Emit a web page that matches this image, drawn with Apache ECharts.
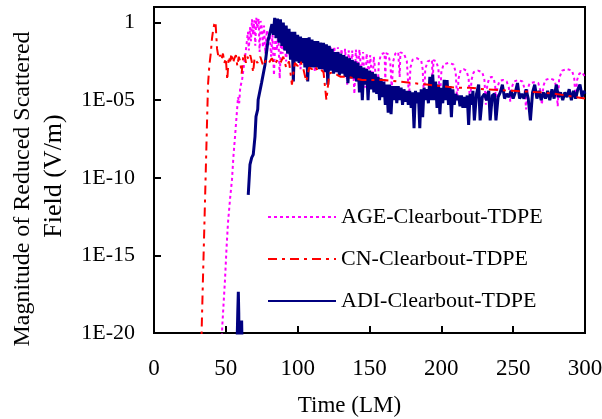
<!DOCTYPE html>
<html><head><meta charset="utf-8">
<script src="https://cdn.jsdelivr.net/npm/echarts@6/dist/echarts.min.js"></script>
<style>html,body{margin:0;padding:0;background:#fff}#c{width:602px;height:419px}</style>
</head><body><div id="c"></div>
<script>
const seriesNames = ['AGE-Clearbout-TDPE', 'CN-Clearbout-TDPE', 'ADI-Clearbout-TDPE'];
const xTickValues = [0, 50, 100, 150, 200, 250, 300];
const yTickExponents = [-20, -15, -10, -5, 0];
const yTickLabels = ['1E-20', '1E-15', '1E-10', '1E-05', '1'];

// [time (LM), log10 of |reduced scattered field| (V/m)]
const ageData = [[47,-21],[47.5,-19.6],[48.5,-18],[49.4,-16.6],[50.5,-14.5],[51.5,-12.9],[53,-11.3],[54.3,-10.1],[55.3,-8.6],[56.4,-7.35],[57.5,-6],[58.5,-4.8],[59.3,-5.2],[60,-4.2],[61.3,-3.7],[62.3,-3.0],[63.3,-2.3],[64.3,-1.5],[65.4,-0.6],[66,-1.8],[66.8,-0.3],[67.5,-1.2],[68.2,0.2],[69,-0.8],[69.8,0.15],[70.5,-1.5],[71.2,0.3],[72,-0.4],[72.8,0.25],[73.5,-1.9],[74.2,0.1],[75,-0.3],[75.8,-1.6],[76.6,-0.2],[77.5,-2.0],[78.5,-0.5],[79.5,-1.2],[80.5,-0.6],[81.5,-2.2],[82.5,-0.8],[83.5,-3.4],[84.5,-0.9],[85.5,-1.8],[86.5,-0.7],[87.5,-3.6],[88.5,-1.0],[89.5,-2.0],[90.5,-0.9],[92,-2.5],[93,-1.1],[94.5,-2.2],[95.5,-1.0],[97,-2.8],[98,-1.2],[99.5,-2.3],[100.5,-1.2],[102,-3.0],[103,-1.3],[104.5,-2.4],[105.5,-1.2],[107,-2.9],[108,-1.4],[109.5,-2.5],[110.5,-1.3],[112,-3.2],[113,-1.5],[114.5,-2.6],[115.5,-1.4],[117,-3.0],[118,-1.5],[119.5,-2.7],[120.5,-1.5],[122,-3.1],[123,-1.6],[124.5,-2.8],[125.5,-1.55],[127,-3.2],[128,-1.6],[129.5,-2.9],[130.5,-1.7],[132,-3.0],[133,-1.7],[134.5,-4.0],[135.5,-1.8],[137,-3.2],[138,-1.8],[139.5,-4.6],[140.5,-1.75],[142,-3.0],[143,-1.75],[144.5,-3.5],[145.5,-1.9],[147,-4.2],[148,-2.0],[149.5,-3.3],[150.5,-2.1],[152,-4.0],[153,-2.2],[154.5,-3.6],[155.5,-4.6],[156.5,-2.6],[158,-2.05],[160.5,-1.95],[161,-3.8],[161.5,-1.97],[163,-2.05],[164.5,-2.6],[165.5,-4.3],[166.5,-2.5],[168,-2.0],[170,-1.9],[171,-3.5],[171.5,-1.92],[174,-2.0],[176,-2.5],[177.5,-4.8],[178.5,-2.9],[180,-2.4],[183,-2.3],[186,-2.45],[187,-3.0],[188,-5.0],[188.8,-3.0],[190.5,-2.5],[193.5,-2.4],[194,-4.2],[194.5,-2.42],[196.5,-2.5],[198,-3.0],[199,-5.1],[200,-3.2],[201.5,-2.7],[205,-2.6],[208.5,-2.7],[210,-3.2],[211,-5.0],[212,-3.6],[213.5,-3.05],[215.5,-3.0],[217.5,-3.1],[219,-3.6],[220,-5.2],[221,-3.7],[222.5,-3.2],[225.5,-3.1],[228.5,-3.2],[230,-3.7],[231,-5.3],[232,-4.0],[233.5,-3.55],[235,-3.5],[236.5,-3.6],[237.5,-4.1],[238,-5.6],[239,-4.2],[240.5,-3.75],[243,-3.7],[245.5,-3.8],[247,-4.2],[248,-5.1],[249,-4.2],[250.5,-3.8],[253.5,-3.7],[256.5,-3.8],[258,-4.3],[259,-5.6],[260,-4.3],[261.5,-3.9],[264.5,-3.85],[267.5,-3.9],[269,-4.4],[270,-5.3],[271,-4.1],[272.5,-3.7],[275.5,-3.6],[278.5,-3.7],[280,-4.1],[281,-5.4],[282,-3.6],[284,-3.1],[287.5,-3.0],[291,-3.1],[292.5,-3.6],[293.5,-5.0],[294.5,-3.7],[296,-3.3],[298,-3.2],[300,-3.5]];

const cnData = [[33,-21],[33.2,-19.7],[34,-16.8],[35,-13.3],[36,-9.7],[37,-6.1],[37.6,-4.0],[38.5,-2.8],[39.5,-2.0],[40.4,-1.0],[41.3,-0.4],[42,-0.1],[42.8,0.05],[43.3,0.0],[43.9,-1.7],[45,-2.3],[46,-2.1],[47,-2.4],[48,-2.0],[49,-2.6],[50,-2.3],[51,-3.7],[52,-2.2],[53,-2.5],[54,-2.0],[55,-2.6],[56,-2.3],[57,-2.1],[58,-2.8],[59,-2.2],[60,-2.5],[61,-3.3],[62,-2.3],[63,-2.0],[64,-2.6],[65,-2.2],[66,-2.4],[67,-2.1],[68,-2.5],[69,-3.2],[70,-2.3],[72,-2.6],[74,-2.2],[76,-2.8],[78,-2.4],[80,-2.6],[82,-2.3],[84,-2.7],[86,-2.4],[88,-2.6],[90,-2.2],[92,-2.9],[94,-2.5],[96,-4.0],[98,-2.6],[100,-2.8],[102,-2.5],[104,-3.0],[106,-3.8],[108,-2.9],[110,-3.0],[112,-2.8],[114,-3.1],[116,-3.0],[118,-3.2],[120,-5.0],[122,-3.3],[124,-3.2],[126,-3.3],[128,-3.4],[130,-3.5],[135,-3.5],[140,-3.6],[145,-3.7],[150,-3.7],[160,-3.7],[170,-3.8],[180,-3.9],[190,-4.0],[200,-4.1],[210,-4.2],[220,-4.2],[230,-4.3],[240,-4.35],[250,-4.4],[260,-4.45],[270,-4.5],[280,-4.6],[290,-4.75],[300,-4.9]];

const adiData = [[57.5,-22],[58.3,-18.7],[58.7,-17.35],[59.0,-18.7],[59.3,-22],[60.5,-22],[61.0,-19.2],[61.5,-22],[62.5,-22],[63,null],[65.6,-11.1],[66.8,-9.16],[68,-8.7],[69.1,-8.5],[70.3,-7.35],[71,-6.06],[72.2,-5.6],[72.5,-4.97],[74.9,-3.87],[77.3,-2.7],[79.3,-1.2],[82.1,-0.1],[83,-0.8],
[84,0.3],[85,-1.0],[86,0.25],[87,-1.3],[88,0.2],[89,-1.5],[90,0.0],[91,-1.8],[92,-0.2],[93,-2.0],[94,-0.4],[95,-2.4],[96,-0.6],[97,-3.8],[98,-0.6],[99,-2.5],[100,-0.8],[101,-2.6],[102,-0.9],[103,-2.6],[104,-1.0],[105,-2.9],[106,-1.0],[107,-3.8],[108,-0.95],[109,-2.9],[110,-1.1],[111,-2.9],[112,-1.2],[113,-2.9],[114,-1.2],[115,-3.0],[116,-1.3],[117,-3.0],[118,-1.3],[119,-3.2],[120,-1.4],[121,-4.0],[122,-1.5],[123,-3.1],[124,-1.7],[125,-3.3],[126,-1.9],[127,-3.2],[128,-1.9],[129,-3.4],[130,-2.0],[131,-3.3],[132,-2.1],[133,-3.5],[134,-2.2],[135,-3.9],[136,-2.3],[137,-3.6],[138,-2.4],[139,-3.6],[140,-2.5],[141,-3.8],[142,-2.6],[143,-4.5],[144,-2.8],[145,-5.0],[146,-2.9],[147,-4.0],[148,-3.0],[149,-5.0],[150,-3.1],[151,-4.3],[152,-3.2],[153,-4.5],[154,-3.3],[155,-4.6],[156,-3.5],[157,-5.0],[158,-3.6],[159,-4.8],[160,-3.8],[161,-5.3],[162,-4.0],[163,-5.8],[164,-4.0],[165,-5.9],[166,-4.1],[167,-5.0],[168,-4.1],[169,-5.2],[170,-4.1],[171,-5.0],[172,-4.2],[173,-5.3],[174,-4.3],[175,-5.1],[176,-4.4],[177,-5.3],[178,-4.4],[179,-5.5],[180,-4.5],[181,-6.8],[182,-4.4],[183,-5.2],[184,-4.5],[185,-6.8],[186,-4.3],[187,-6.1],[188,-4.2],[189,-5.0],[190,-4.3],[191,-5.2],[192,-3.5],[193,-5.0],[194,-3.35],[195,-5.0],[196,-3.8],[197,-5.5],[198,-4.0],[199,-5.9],[200,-4.2],[201,-5.2],[202,-3.7],[203,-5.0],[204,-3.7],[205,-5.3],[206,-4.1],[207,-6.1],[208,-4.3],[209,-5.3],[210,-4.6],[211,-5.0],[212,-4.7],[213,-5.4],[214,-4.7],[215,-5.5],[216,-4.8],[217,-5.5],[218,-4.7],[219,-6.6],[220,-4.6],[221,-5.3],
[222,-4.4],[223,-6.3],[224.5,-4.6],[226,-4.0],[227,-6.3],[228.5,-4.8],[230,-4.6],[231.5,-5.0],[233,-4.4],[234,-6.3],[235.5,-4.7],[237,-4.6],[238,-6.3],[239.5,-4.8],[241,-4.5],[242.5,-4.0],[244,-4.9],[245.5,-4.6],[247,-4.8],[248.5,-4.4],[250,-4.9],[251.5,-4.5],[253,-3.9],[254.5,-4.9],[256,-4.6],[257.5,-4.9],[259,-4.3],[260.5,-4.9],[262,-6.3],[263.5,-4.5],[265,-4.0],[266.5,-4.9],[268,-4.4],[269.5,-5.0],[271,-4.5],[272.5,-4.9],[274,-4.4],[275.5,-5.0],[277,-4.3],[278.5,-4.9],[280,-4.0],[281.5,-4.8],[283,-4.5],[284.5,-5.0],[286,-4.5],[287.5,-4.8],[289,-4.3],[290.5,-5.0],[292,-4.4],[293.5,-4.9],[295,-4.3],[296.5,-4.0],[298,-4.8],[299,-4.4],[300,-4.6]];

const font = '"Liberation Serif", "Times New Roman", serif';
const labelOf = {};
yTickExponents.forEach((v, i) => { labelOf[v] = yTickLabels[i]; });

const chart = echarts.init(document.getElementById('c'), null, { renderer: 'canvas' });
chart.setOption({
  animation: false,
  backgroundColor: '#ffffff',
  grid: { left: 154, right: 17, top: 7, bottom: 86, show: true, borderColor: '#000', borderWidth: 2, backgroundColor: 'transparent', outerBoundsMode: 'none', containLabel: false },
  legend: {
    orient: 'vertical', left: 262, top: 201, itemWidth: 68, itemHeight: 14, itemGap: 20,
    itemStyle: { opacity: 0 },
    textStyle: { fontFamily: font, fontSize: 22, color: '#000' },
    data: seriesNames
  },
  xAxis: {
    type: 'value', min: xTickValues[0], max: xTickValues[xTickValues.length - 1], interval: 50,
    name: 'Time (LM)', nameLocation: 'middle', nameGap: 61,
    nameTextStyle: { fontFamily: font, fontSize: 23, color: '#000', padding: [0, 40, 0, 0] },
    axisLine: { onZero: false, lineStyle: { color: '#000', width: 2 } },
    axisTick: { inside: true, length: 7, lineStyle: { color: '#000', width: 2 } },
    axisLabel: { margin: 24, fontFamily: font, fontSize: 23, color: '#000' },
    splitLine: { show: false }
  },
  yAxis: {
    type: 'value', min: -20, max: 1, interval: 5,
    name: '{a|Magnitude of Reduced Scattered}\n{b|Field (V/m)}',
    nameLocation: 'middle', nameGap: 77,
    nameTextStyle: {
      fontFamily: font, fontSize: 24, color: '#000', lineHeight: 32,
      rich: {
        a: { fontFamily: font, fontSize: 24, color: '#000', lineHeight: 32, padding: [0, 38, 0, 0] },
        b: { fontFamily: font, fontSize: 26, color: '#000', lineHeight: 32, padding: [0, 12, 0, 0] }
      }
    },
    axisLine: { onZero: false, lineStyle: { color: '#000', width: 2 } },
    axisTick: { inside: true, length: 7, lineStyle: { color: '#000', width: 2 } },
    axisLabel: { margin: 19, fontFamily: font, fontSize: 22, color: '#000', formatter: v => (labelOf[v] !== undefined ? labelOf[v] : '') },
    splitLine: { show: false }
  },
  series: [
    { name: seriesNames[0], type: 'line', data: ageData, symbol: 'none', z: 2, clip: true,
      lineStyle: { color: '#FF00FF', width: 2, type: [3, 3] }, itemStyle: { color: '#FF00FF' } },
    { name: seriesNames[1], type: 'line', data: cnData, symbol: 'none', z: 4, clip: true,
      lineStyle: { color: '#FF0000', width: 2, type: [9, 5, 3, 5] }, itemStyle: { color: '#FF0000' } },
    { name: seriesNames[2], type: 'line', data: adiData, symbol: 'none', z: 3, clip: true, connectNulls: false,
      lineStyle: { color: '#000080', width: 3 }, itemStyle: { color: '#000080' } }
  ]
});
</script>
</body></html>
